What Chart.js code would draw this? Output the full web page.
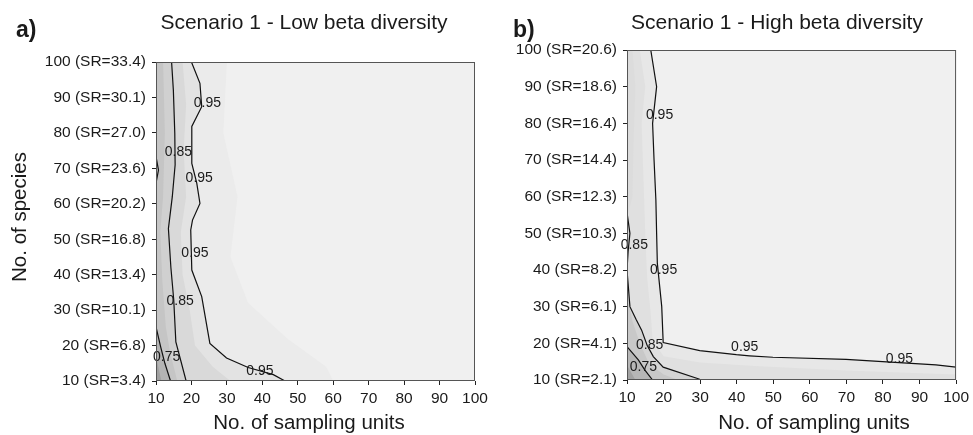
<!DOCTYPE html>
<html>
<head>
<meta charset="utf-8">
<script src="https://cdn.jsdelivr.net/npm/chart.js@4.4.0/dist/chart.umd.min.js"></script>
<style>
  html, body { margin: 0; padding: 0; background: #fff; }
  #wrap { position: relative; width: 973px; height: 435px; overflow: hidden; }
  .panel { position: absolute; top: 0; height: 435px; }
  #panelA { left: 0; width: 495px; }
  #panelB { left: 487px; width: 486px; }
</style>
</head>
<body>
<div id="wrap">
  <div class="panel" id="panelA"><canvas id="chartA" width="495" height="435"></canvas></div>
  <div class="panel" id="panelB"><canvas id="chartB" width="486" height="435"></canvas></div>
</div>
<script>
// Contour plots of sampling units vs. number of species (two scenarios)

// axis ticks
const samplingUnits = [10, 20, 30, 40, 50, 60, 70, 80, 90, 100];
const speciesCounts = [10, 20, 30, 40, 50, 60, 70, 80, 90, 100];
const srLowBeta  = ['3.4', '6.8', '10.1', '13.4', '16.8', '20.2', '23.6', '27.0', '30.1', '33.4'];
const srHighBeta = ['2.1', '4.1', '6.1', '8.2', '10.3', '12.3', '14.4', '16.4', '18.6', '20.6'];

// --- panel a: low beta diversity, contour lines [sampling units, species]
const lowLine075 = [[10, 25.3], [11.3, 19.7], [12.5, 15], [14.1, 10]];
const lowLine085 = [[14.4, 100], [14.9, 92], [15.3, 80], [15.4, 71], [14.6, 62], [13.5, 53],
                    [14.2, 42], [15.0, 33], [15.6, 21], [18.5, 10]];
const lowLine095 = [[20.0, 100], [22.4, 94], [22.9, 87.4], [20.1, 81.8], [20.1, 71.4], [21.5, 65.8],
                    [22.4, 60.1], [20.3, 55.4], [19.8, 52.6], [20.1, 41.3], [22.9, 33.8], [25.2, 20.6],
                    [29.9, 16.5], [36.0, 13.8], [43.1, 11.8], [46.4, 10]];
const lowLineBump = [[10, 73.3], [10.7, 69.5], [10, 65.8]];

// intermediate shading levels (fill only)
const lowShade098 = [[30, 100], [29, 80], [33, 62], [31, 45], [36, 32], [47, 22], [58, 14], [60, 10]];
const lowShade090 = [[17.5, 100], [18.5, 88], [17.8, 75], [18.5, 62], [17, 52], [17.5, 40], [19.5, 30],
                     [21, 20], [26, 14], [31, 10]];
const lowShade080 = [[12, 100], [12.5, 80], [12, 62], [11.2, 52], [11.8, 38], [12.8, 25], [14, 18], [16, 10]];
const lowShade070 = [[10, 17], [11.5, 10]];

const lowLabelText = ['0.95', '0.85', '0.95', '0.95', '0.85', '0.75', '0.95'];
const lowLabelX    = [24.5, 16.3, 22.2, 21.0, 16.8, 13.0, 39.3];
const lowLabelY    = [88.5, 74.7, 67.2, 46.0, 32.4, 16.6, 12.9];

// --- panel b: high beta diversity
const highLine075 = [[10, 19.1], [13.1, 15.5], [14.9, 12.7], [17.0, 10]];
const highLine085 = [[10.1, 55], [10.8, 50], [10.3, 45], [10, 40], [10.8, 30], [12.5, 26.5], [14, 23.6],
                     [15.5, 19.5], [17.2, 16.4], [19.9, 13.5], [29.9, 10.2]];
const highLine095 = [[16.5, 100], [18.1, 90], [17.0, 80], [17.4, 70], [17.9, 59], [18.1, 50], [18.3, 41.8],
                     [19.5, 30], [19.9, 20.2], [29.9, 18.0], [39.9, 16.9], [43.5, 16.6], [49.9, 16.2],
                     [69.9, 15.6], [79.9, 15.0], [94.5, 14.1], [100, 13.5]];

const highShade093 = [[13.5, 100], [15, 90], [14, 80], [14.5, 65], [15, 50], [15.5, 38], [16.5, 28], [17, 21],
                      [20, 16.5], [30, 14.8], [45, 13.8], [70, 12.6], [100, 11.5]];
const highShade090 = [[11.5, 100], [12.3, 90], [11.8, 75], [11.5, 60], [10.1, 55]];
const highShade080 = [[10, 33], [11.5, 26], [13.5, 20], [16, 14.5], [20, 11.5], [24, 10]];
const highShade070 = [[10, 14], [12.3, 10]];

const highLabelText = ['0.95', '0.85', '0.95', '0.85', '0.75', '0.95', '0.95'];
const highLabelX    = [18.9, 12.0, 20.0, 16.2, 14.5, 42.2, 84.5];
const highLabelY    = [82.3, 46.8, 40.0, 19.5, 13.6, 18.9, 15.6];

const FONT = "'Liberation Sans', Arial, Helvetica, sans-serif";
Chart.defaults.font.family = FONT;
Chart.defaults.color = '#1a1a1a';

function toXY(pts) {
    return pts.map(p => ({x: p[0], y: p[1]}));
}

// close a contour into a region towards the lower-left corner
function closeShape(pts) {
    const out = pts.slice();
    const last = pts[pts.length - 1];
    if (last[0] >= 100) out.push([100, 10]);
    out.push([10, 10]);
    if (pts[0][1] >= 100) out.push([10, 100]);
    return out;
}

function lineSet(pts) {
    return {
        data: toXY(pts), showLine: true, fill: false,
        borderColor: '#111', borderWidth: 1.2, pointRadius: 0, order: 0
    };
}

function shadeSet(pts, color, order) {
    return {
        data: toXY(closeShape(pts)), showLine: true, fill: 'shape',
        backgroundColor: color, borderColor: color, borderWidth: 0, pointRadius: 0, order: order
    };
}

const panelDecor = {
    id: 'panelDecor',
    beforeDatasetsDraw(chart) {
        const a = chart.chartArea;
        const ctx = chart.ctx;
        ctx.save();
        ctx.fillStyle = '#f0f0f0';
        ctx.fillRect(a.left, a.top, a.width, a.height);
        ctx.restore();
    },
    afterDatasetsDraw(chart, args, opts) {
        const ctx = chart.ctx;
        const a = chart.chartArea;
        const xs = chart.scales.x, ys = chart.scales.y;
        ctx.save();
        ctx.font = '14px ' + FONT;
        ctx.fillStyle = '#1a1a1a';
        ctx.textAlign = 'center';
        ctx.textBaseline = 'middle';
        opts.labelText.forEach((t, i) => {
            ctx.fillText(t, xs.getPixelForValue(opts.labelX[i]), ys.getPixelForValue(opts.labelY[i]));
        });
        // frame
        ctx.strokeStyle = '#555';
        ctx.lineWidth = 1;
        ctx.strokeRect(a.left + 0.5, a.top + 0.5, a.width - 1, a.height - 1);
        ctx.restore();
    },
    afterDraw(chart, args, opts) {
        const ctx = chart.ctx;
        ctx.save();
        ctx.fillStyle = '#1a1a1a';
        ctx.textBaseline = 'middle';
        ctx.textAlign = 'left';
        ctx.font = 'bold 23px ' + FONT;
        ctx.fillText(opts.letter, opts.letterX, 31);
        ctx.textAlign = 'center';
        ctx.font = '21px ' + FONT;
        ctx.fillText(opts.title, opts.titleX, 23);
        ctx.font = '20.5px ' + FONT;
        ctx.fillText('No. of sampling units', opts.xTitleX, 423);
        if (opts.yTitle) {
            ctx.translate(20, 217);
            ctx.rotate(-Math.PI / 2);
            ctx.fillText(opts.yTitle, 0, 0);
        }
        ctx.restore();
    }
};

function buildPanel(canvasId, p) {
    const datasets = [];
    p.lines.forEach(l => datasets.push(lineSet(l)));
    p.shades.forEach((s, i) => datasets.push(shadeSet(s[0], s[1], i + 1)));

    return new Chart(document.getElementById(canvasId), {
        type: 'scatter',
        data: {datasets: datasets},
        options: {
            responsive: false,
            animation: false,
            devicePixelRatio: 1,
            layout: {padding: {top: p.padTop, right: p.padRight, left: 0, bottom: 0}},
            plugins: {
                legend: {display: false},
                tooltip: {enabled: false},
                panelDecor: p.decor
            },
            scales: {
                x: {
                    type: 'linear', min: 10, max: 100,
                    afterBuildTicks: s => { s.ticks = samplingUnits.map(v => ({value: v})); },
                    afterFit: s => { s.height = p.xHeight; },
                    border: {display: false},
                    grid: {drawOnChartArea: false, drawTicks: true, tickLength: 4, color: '#222'},
                    ticks: {font: {size: 15.5}, padding: 4, maxRotation: 0, color: '#1a1a1a'}
                },
                y: {
                    type: 'linear', min: 10, max: 100,
                    afterBuildTicks: s => { s.ticks = speciesCounts.map(v => ({value: v})); },
                    afterFit: s => { s.width = p.yWidth; },
                    border: {display: false},
                    grid: {drawOnChartArea: false, drawTicks: true, tickLength: 4, color: '#222'},
                    ticks: {
                        font: {size: 15.5}, padding: 6, color: '#1a1a1a',
                        callback: v => v + ' (SR=' + p.sr[speciesCounts.indexOf(v)] + ')'
                    }
                }
            }
        },
        plugins: [panelDecor]
    });
}

buildPanel('chartA', {
    sr: srLowBeta,
    padTop: 62, padRight: 20, xHeight: 54, yWidth: 156,
    lines: [lowLine075, lowLine085, lowLine095, lowLineBump],
    shades: [
        [lowShade070, '#a0a0a0'],
        [lowLine075, '#b4b4b4'],
        [lowShade080, '#c5c5c5'],
        [lowLineBump, '#c0c0c0'],
        [lowLine085, '#d0d0d0'],
        [lowShade090, '#d9d9d9'],
        [lowLine095, '#e3e3e3'],
        [lowShade098, '#ebebeb']
    ],
    decor: {
        labelText: lowLabelText, labelX: lowLabelX, labelY: lowLabelY,
        letter: 'a)', letterX: 16,
        title: 'Scenario 1 - Low beta diversity', titleX: 304,
        xTitleX: 309, yTitle: 'No. of species'
    }
});

buildPanel('chartB', {
    sr: srHighBeta,
    padTop: 50, padRight: 16, xHeight: 55, yWidth: 140,
    lines: [highLine075, highLine085, highLine095],
    shades: [
        [highShade070, '#a2a2a2'],
        [highLine075, '#b6b6b6'],
        [highShade080, '#c8c8c8'],
        [highLine085, '#d4d4d4'],
        [highShade090, '#dcdcdc'],
        [highShade093, '#e0e0e0'],
        [highLine095, '#e7e7e7']
    ],
    decor: {
        labelText: highLabelText, labelX: highLabelX, labelY: highLabelY,
        letter: 'b)', letterX: 26,
        title: 'Scenario 1 - High beta diversity', titleX: 290,
        xTitleX: 327, yTitle: null
    }
});
</script>
</body>
</html>
